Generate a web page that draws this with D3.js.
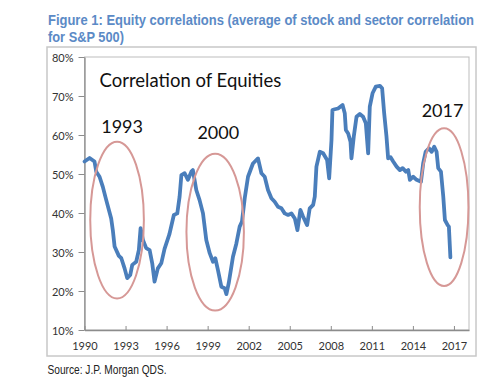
<!DOCTYPE html>
<html>
<head>
<meta charset="utf-8">
<script src="https://cdn.jsdelivr.net/npm/d3@7"></script>
<style>
  body { margin: 0; background: #fff; }
  .tick text { font-family: Lato, "Open Sans", sans-serif; font-size: 11px; fill: #333; }
</style>
</head>
<body>
<div id="chart"></div>
<script>
// data: decimal year, correlation in %
var years = [1990.00, 1990.37, 1990.73, 1990.86, 1991.10, 1991.34, 1991.59, 1991.95, 1992.07, 1992.20,
  1992.51, 1992.69, 1992.93, 1993.12, 1993.34, 1993.49, 1993.78, 1993.97, 1994.10, 1994.27,
  1994.51, 1994.76, 1994.95, 1995.12, 1995.36, 1995.61, 1995.85, 1996.20, 1996.53, 1996.78,
  1996.95, 1997.08, 1997.32, 1997.56, 1997.81, 1997.92, 1998.17, 1998.41, 1998.66, 1998.90,
  1999.15, 1999.39, 1999.56, 1999.75, 2000.00, 2000.24, 2000.37, 2000.54, 2000.85, 2001.10,
  2001.34, 2001.51, 2001.71, 2001.95, 2002.31, 2002.68, 2002.93, 2003.17, 2003.41, 2003.66,
  2003.90, 2004.14, 2004.39, 2004.63, 2004.88, 2005.12, 2005.37, 2005.56, 2005.78, 2005.97,
  2006.27, 2006.46, 2006.71, 2006.83, 2006.95, 2007.20, 2007.44, 2007.73, 2007.88, 2008.05,
  2008.12, 2008.29, 2008.53, 2008.86, 2009.02, 2009.10, 2009.27, 2009.44, 2009.51, 2009.68,
  2009.88, 2010.12, 2010.36, 2010.56, 2010.73, 2010.85, 2011.05, 2011.29, 2011.59, 2011.75,
  2011.90, 2012.07, 2012.19, 2012.37, 2012.56, 2012.81, 2013.05, 2013.25, 2013.49, 2013.66,
  2013.78, 2014.02, 2014.27, 2014.59, 2014.75, 2014.93, 2015.17, 2015.37, 2015.56, 2015.73,
  2015.85, 2016.05, 2016.22, 2016.34, 2016.54, 2016.63, 2016.74];
var correlation = [53.2, 54.1, 53.2, 50.6, 49.3, 46.7, 43.3, 38.6, 35.6, 31.4,
  29.0, 28.4, 25.8, 23.3, 24.1, 26.7, 27.5, 30.5, 36.1, 33.1,
  31.0, 30.5, 27.1, 22.4, 25.8, 27.1, 30.8, 34.5, 39.5, 39.9,
  44.2, 49.7, 50.2, 48.5, 50.6, 51.0, 45.9, 43.3, 39.9, 33.1,
  29.7, 27.5, 28.4, 25.4, 21.1, 20.7, 19.2, 22.0, 28.8, 32.2,
  36.5, 37.8, 43.8, 49.3, 52.7, 54.0, 50.2, 49.3, 45.9, 43.8,
  42.9, 41.6, 41.2, 39.9, 39.5, 39.9, 38.6, 35.6, 40.8, 39.1,
  36.9, 41.2, 42.1, 44.2, 51.9, 55.7, 55.3, 53.6, 48.9, 58.7,
  66.4, 66.6, 66.8, 67.7, 65.6, 61.3, 60.4, 58.3, 54.0, 59.6,
  64.7, 65.4, 64.7, 63.0, 55.3, 67.3, 70.7, 72.4, 72.6, 72.0,
  65.6, 59.6, 54.0, 54.3, 53.2, 51.9, 51.0, 51.5, 50.6, 51.0,
  48.5, 49.3, 48.5, 48.0, 52.7, 55.7, 56.6, 55.7, 57.0, 55.7,
  51.5, 50.6, 44.2, 38.2, 36.9, 36.5, 28.6];

var xTicks = [1990, 1993, 1996, 1999, 2002, 2005, 2008, 2011, 2014, 2017];
var yTicks = [10, 20, 30, 40, 50, 60, 70, 80];

// circled episodes: centre year / %, radius in years / %
var circleYears = [1992.38, 1999.55, 2016.28];
var circlePcts = [38.2, 35.1, 41.5];
var circleRx = [1.96, 2.1, 1.78];
var circleRy = [20.1, 20.1, 20.2];

// text annotations (left x in years, baseline in %)
var noteText = ["Correlation of Equities", "1993", "2000", "2017"];
var noteYears = [1991.1, 1991.22, 1998.25, 2014.64];
var notePcts = [72.2, 60.4, 58.9, 64.5];

var svgWidth = 500;
var svgHeight = 392;

var svg = d3.select("#chart")
  .append("svg")
  .attr("width", svgWidth)
  .attr("height", svgHeight);

// title and source (narrow face, the original is squeezed)
var titleFont = "'Liberation Sans Narrow', 'Liberation Sans', Arial, sans-serif";

svg.append("text")
  .attr("x", 48)
  .attr("y", 24.5)
  .attr("textLength", 426)
  .attr("lengthAdjust", "spacingAndGlyphs")
  .style("font-family", titleFont)
  .style("font-weight", "bold")
  .style("font-size", "13.8px")
  .style("fill", "#5b8ac6")
  .text("Figure 1: Equity correlations (average of stock and sector correlation");

svg.append("text")
  .attr("x", 48)
  .attr("y", 41.5)
  .attr("textLength", 76)
  .attr("lengthAdjust", "spacingAndGlyphs")
  .style("font-family", titleFont)
  .style("font-weight", "bold")
  .style("font-size", "13.8px")
  .style("fill", "#5b8ac6")
  .text("for S&P 500)");

svg.append("text")
  .attr("x", 47.5)
  .attr("y", 374)
  .attr("textLength", 119)
  .attr("lengthAdjust", "spacingAndGlyphs")
  .style("font-family", titleFont)
  .style("font-size", "13px")
  .style("fill", "#222")
  .text("Source: J.P. Morgan QDS.");

// outer chart frame
svg.append("rect")
  .attr("x", 47)
  .attr("y", 47)
  .attr("width", 429)
  .attr("height", 309)
  .attr("fill", "none")
  .attr("stroke", "#c8c8c8")
  .attr("stroke-width", 1.5);

// scales
var xScale = d3.scaleLinear()
  .domain([1990, 2018.1])
  .range([84.5, 469]);

var yScale = d3.scaleLinear()
  .domain([10, 80])
  .range([330, 57]);

// plot area frame (top and right)
svg.append("rect")
  .attr("x", xScale(1990))
  .attr("y", yScale(80))
  .attr("width", xScale(2018.1) - xScale(1990))
  .attr("height", yScale(10) - yScale(80))
  .attr("fill", "none")
  .attr("stroke", "#bdbdbd")
  .attr("stroke-width", 1);

// axes
var xAxis = d3.axisBottom(xScale)
  .tickValues(xTicks)
  .tickFormat(d3.format("d"))
  .tickSizeInner(-4)
  .tickSizeOuter(0)
  .tickPadding(12);

var yAxis = d3.axisLeft(yScale)
  .tickValues(yTicks)
  .tickFormat(d => d + "%")
  .tickSizeInner(6)
  .tickSizeOuter(0)
  .tickPadding(5);

var gx = svg.append("g")
  .attr("transform", `translate(0, ${yScale(10)})`)
  .call(xAxis);

var gy = svg.append("g")
  .attr("transform", `translate(${xScale(1990)}, 0)`)
  .call(yAxis);

[gx, gy].forEach(function(g) {
  g.selectAll(".domain").attr("stroke", "#8c8c8c").attr("stroke-width", 1.3);
  g.selectAll(".tick line").attr("stroke", "#8c8c8c");
});
gy.selectAll(".tick text").attr("x", -11).attr("dy", "0.38em");

// correlation line
var points = years.map(function(y, i) { return [y, correlation[i]]; });

var line = d3.line()
  .x(d => xScale(d[0]))
  .y(d => yScale(d[1]));

svg.append("path")
  .datum(points)
  .attr("d", line)
  .attr("fill", "none")
  .attr("stroke", "#4a7ebb")
  .attr("stroke-width", 3.8)
  .attr("stroke-linejoin", "round")
  .attr("stroke-linecap", "round");

// ellipses round the three episodes
circleYears.forEach(function(cy, i) {
  svg.append("ellipse")
    .attr("cx", xScale(cy))
    .attr("cy", yScale(circlePcts[i]))
    .attr("rx", xScale(cy + circleRx[i]) - xScale(cy))
    .attr("ry", yScale(circlePcts[i] - circleRy[i]) - yScale(circlePcts[i]))
    .attr("fill", "none")
    .attr("stroke", "#d69896")
    .attr("stroke-width", 2);
});

// annotation labels
noteText.forEach(function(t, i) {
  svg.append("text")
    .attr("x", xScale(noteYears[i]))
    .attr("y", yScale(notePcts[i]))
    .style("font-family", "Lato, 'Open Sans', sans-serif")
    .style("font-size", i == 0 ? "18.5px" : "18px")
    .style("fill", "#111")
    .text(t);
});
</script>
</body>
</html>
